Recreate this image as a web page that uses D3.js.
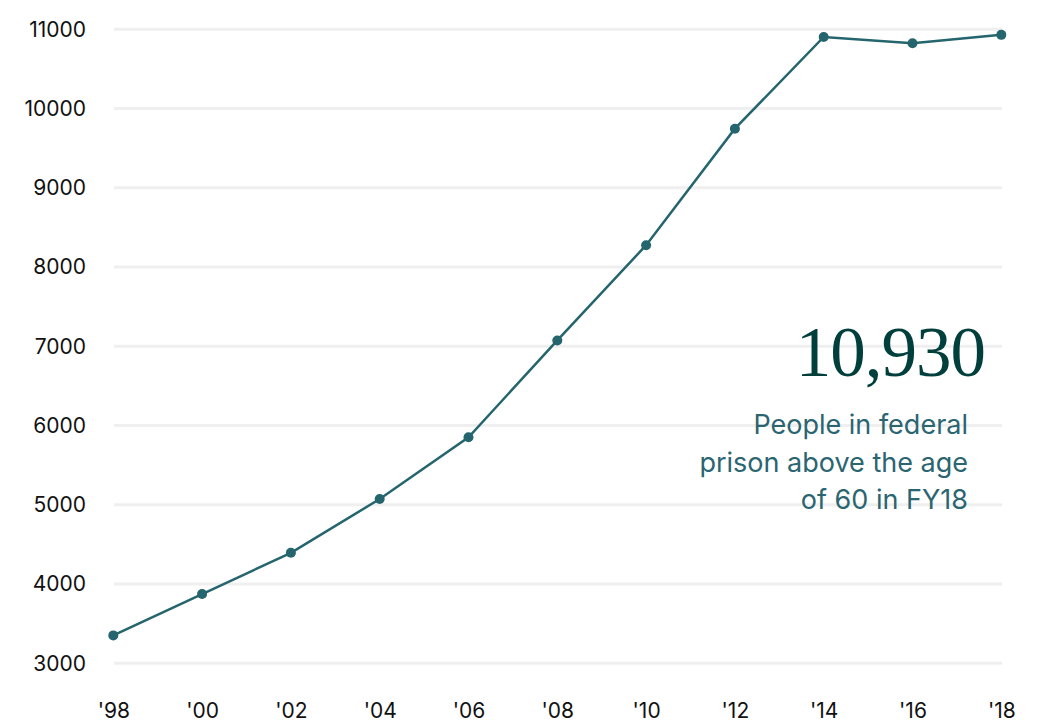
<!DOCTYPE html>
<html>
<head>
<meta charset="utf-8">
<script src="https://cdn.jsdelivr.net/npm/d3@7"></script>
<style>
  body { margin: 0; background: #fff; }
  svg { display: block; }
</style>
</head>
<body>
<svg id="chart" width="1041" height="722"></svg>
<script>
// data
const years = ["'98", "'00", "'02", "'04", "'06", "'08", "'10", "'12", "'14", "'16", "'18"];
const people = [3352, 3874, 4394, 5073, 5852, 7074, 8276, 9746, 10903, 10825, 10930];
const yTicks = [3000, 4000, 5000, 6000, 7000, 8000, 9000, 10000, 11000];
const bigNumber = "10,930";
const noteLines = ["People in federal", "prison above the age", "of 60 in FY18"];

const width = 1041;
const height = 722;
const lineColor = "#25656e";

const svg = d3.select("#chart");

const x = d3.scalePoint(years, [113.3, 1001.3]);
const y = d3.scaleLinear([3000, 11000], [663.3, 29.3]);

// gridlines
svg.append("g")
  .selectAll("line")
  .data(yTicks)
  .join("line")
    .attr("x1", 114)
    .attr("x2", 1002)
    .attr("y1", d => y(d))
    .attr("y2", d => y(d))
    .attr("stroke", "#efefef")
    .attr("stroke-width", 3);

// y axis labels
var yAxis = g => g
  .attr("transform", `translate(86,0)`)
  .call(d3.axisLeft(y).tickValues(yTicks).tickSize(0).tickPadding(0).tickFormat(d3.format("d")))
  .call(g => g.select(".domain").remove())
  .call(g => g.selectAll("text")
    .attr("font-family", "Inter, 'Open Sans', sans-serif")
    .attr("font-size", 21)
    .attr("fill", "#111"));
svg.append("g").call(yAxis);

// x axis labels
var xAxis = g => g
  .attr("transform", `translate(0,703)`)
  .call(d3.axisBottom(x).tickSize(0).tickPadding(0))
  .call(g => g.select(".domain").remove())
  .call(g => g.selectAll("text")
    .attr("font-family", "Inter, 'Open Sans', sans-serif")
    .attr("font-size", 21)
    .attr("fill", "#111"));
svg.append("g").call(xAxis);

// line
svg.append("path")
  .datum(people)
  .attr("fill", "none")
  .attr("stroke", lineColor)
  .attr("stroke-width", 2.5)
  .attr("d", d3.line()
    .x((d, i) => x(years[i]))
    .y(d => y(d)));

svg.append("g")
  .selectAll("circle")
  .data(people)
  .join("circle")
    .attr("cx", (d, i) => x(years[i]))
    .attr("cy", d => y(d))
    .attr("r", 5)
    .attr("fill", lineColor);

// annotation
svg.append("text")
  .attr("x", 985)
  .attr("y", 376)
  .attr("text-anchor", "end")
  .attr("font-family", "'Liberation Serif', 'DejaVu Serif', serif")
  .attr("font-size", 71)
  .attr("letter-spacing", -1)
  .attr("fill", "#003f3c")
  .text(bigNumber);

svg.append("g")
  .selectAll("text")
  .data(noteLines)
  .join("text")
    .attr("x", 968)
    .attr("y", (d, i) => 434 + i * 37.5)
    .attr("text-anchor", "end")
    .attr("font-family", "Inter, 'Open Sans', sans-serif")
    .attr("font-size", 27)
    .attr("fill", "#2a6571")
    .text(d => d);
</script>
</body>
</html>
